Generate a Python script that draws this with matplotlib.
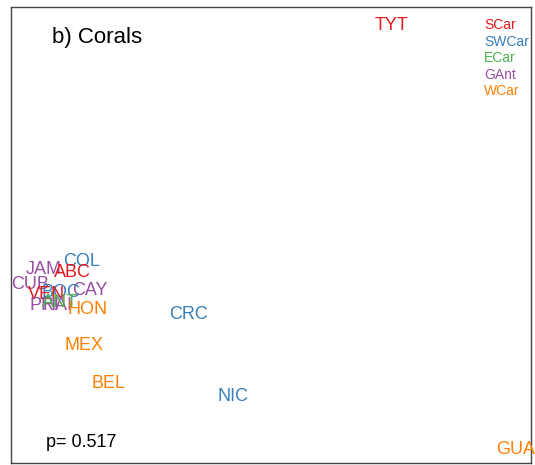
import matplotlib
matplotlib.use("Agg")
import matplotlib.pyplot as plt

plt.rcParams['font.family'] = ['Liberation Sans', 'DejaVu Sans']

regions = ["SCar", "SWCar", "ECar", "GAnt", "WCar"]
region_colors = ["#E41A1C", "#377EB8", "#4DAF4A", "#984EA3", "#FF7F00"]

sites = ["TYT", "GUA", "COL", "JAM", "ABC", "CUB", "CAY", "BOC", "VEN",
         "PRI", "HAI", "ANT", "HON", "MEX", "BEL", "CRC", "NIC"]
site_region = ["SCar", "WCar", "SWCar", "GAnt", "SCar", "GAnt", "GAnt", "SWCar", "SCar",
               "GAnt", "GAnt", "ECar", "WCar", "WCar", "WCar", "SWCar", "SWCar"]
nmds1 = [73.1, 97.1, 13.5, 6.3, 11.9, 3.7, 15.2, 9.6, 6.9,
         6.5, 9.0, 9.4, 14.8, 14.0, 18.7, 34.2, 42.7]
nmds2 = [96.3, 3.5, 44.7, 42.8, 42.3, 39.5, 38.2, 37.9, 37.3,
         34.9, 34.9, 35.6, 34.0, 26.3, 17.8, 32.9, 15.1]

title = "b) Corals"
pvalue_text = "p= 0.517"

fig = plt.figure(figsize=(5.35, 4.65), dpi=100)
ax = fig.add_axes([11/535, 2/465, 520/535, 456/465])
ax.set_xlim(0, 100)
ax.set_ylim(0, 100)
ax.set_xticks([])
ax.set_yticks([])
for s in ax.spines.values():
    s.set_color("#444444")
    s.set_linewidth(1.0)

cmap = dict(zip(regions, region_colors))
for name, reg, x, y in zip(sites, site_region, nmds1, nmds2):
    ax.text(x, y, name, color=cmap[reg], fontsize=13, ha="center",
            va="center_baseline", clip_on=False)

for i, (reg, col) in enumerate(zip(regions, region_colors)):
    ax.text(0.910, 0.964 - i * 0.0365, reg, color=col, fontsize=10,
            ha="left", va="center_baseline", transform=ax.transAxes)

ax.text(0.079, 0.938, title, fontsize=16, ha="left", va="center_baseline",
        transform=ax.transAxes)
ax.text(0.067, 0.050, pvalue_text, fontsize=13, ha="left", va="center_baseline",
        transform=ax.transAxes)

fig.savefig("out.png", dpi=100)
